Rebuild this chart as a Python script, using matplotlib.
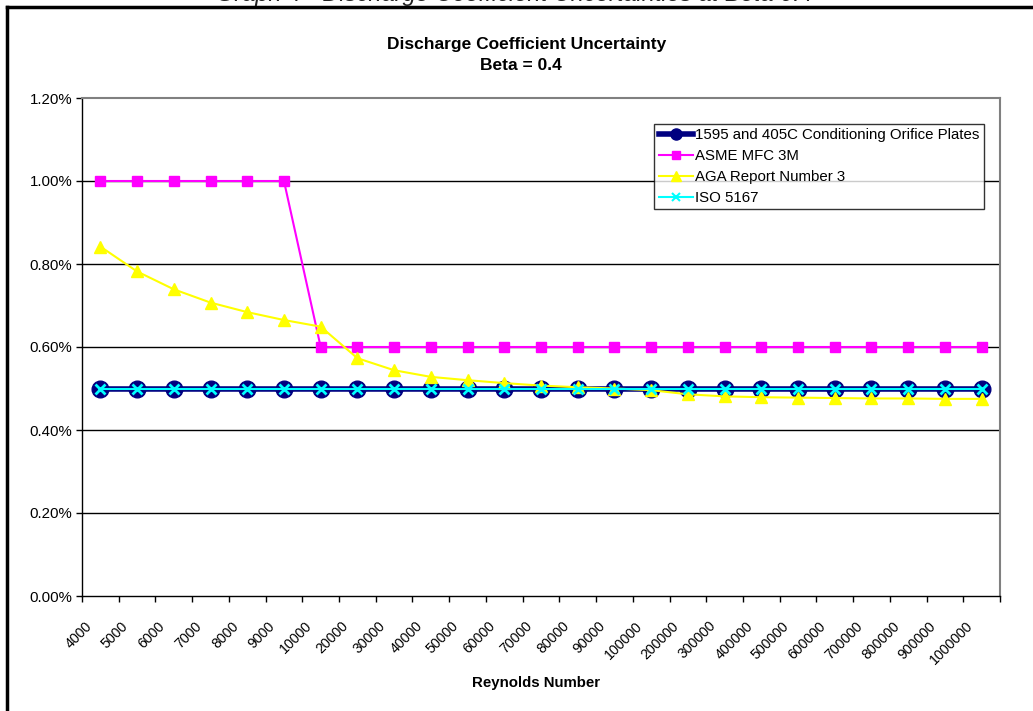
import matplotlib
matplotlib.use("Agg")
import matplotlib.pyplot as plt
from matplotlib.lines import Line2D
from matplotlib.ticker import FuncFormatter, FixedLocator
from matplotlib.transforms import ScaledTranslation

plt.rcParams["font.family"] = ["Liberation Sans", "DejaVu Sans"]

REYNOLDS = ["4000", "5000", "6000", "7000", "8000", "9000",
            "10000", "20000", "30000", "40000", "50000", "60000", "70000", "80000", "90000",
            "100000", "200000", "300000", "400000", "500000", "600000", "700000", "800000",
            "900000", "1000000"]

# uncertainty in percent
CONDITIONING = [0.50] * 25
ASME = [1.00] * 6 + [0.60] * 19
AGA = [0.842, 0.782, 0.739, 0.707, 0.684, 0.665, 0.649, 0.573, 0.544, 0.528,
       0.520, 0.513, 0.507, 0.503, 0.500, 0.496, 0.486, 0.481, 0.479, 0.478,
       0.477, 0.476, 0.476, 0.475, 0.475]
ISO = [0.50] * 25

W, H = 1033, 711
fig = plt.figure(figsize=(W / 100, H / 100), dpi=100)
ax = fig.add_axes([82 / W, (H - 596) / H, 918 / W, (596 - 98) / H])

x = list(range(len(REYNOLDS)))
ax.plot(x, CONDITIONING, color="#000080", lw=4, marker="o", ms=12,
        mfc="#000080", mec="#000080", label="1595 and 405C Conditioning Orifice Plates", zorder=3)
ax.plot(x, ASME, color="#FF00FF", lw=1.5, marker="s", ms=7.5,
        label="ASME MFC 3M", zorder=4)
ax.plot(x, AGA, color="#FFFF00", lw=1.5, marker="^", ms=8.5,
        label="AGA Report Number 3", zorder=5)
ax.plot(x, ISO, color="#00FFFF", lw=1.5, marker="x", ms=7, mew=2,
        label="ISO 5167", zorder=6)

ax.set_xlim(-0.5, len(REYNOLDS) - 0.5)
ax.set_ylim(0, 1.2)
ax.set_yticks([0, 0.2, 0.4, 0.6, 0.8, 1.0, 1.2])
ax.yaxis.set_major_formatter(FuncFormatter(lambda v, p: f"{v:.2f}%"))
ax.tick_params(axis="y", direction="out", length=4, width=1, labelsize=10.8, pad=3)
for yv in [0.2, 0.4, 0.6, 0.8, 1.0]:
    ax.axhline(yv, color="black", lw=1, zorder=1)

# category boundaries get the tick marks, centres get the labels
ax.xaxis.set_major_locator(FixedLocator([i - 0.5 for i in range(len(REYNOLDS) + 1)]))
ax.xaxis.set_major_formatter(FuncFormatter(lambda v, p: ""))
ax.xaxis.set_minor_locator(FixedLocator(x))
ax.set_xticklabels(REYNOLDS, minor=True)
ax.tick_params(axis="x", which="major", direction="out", length=4, width=1)
ax.tick_params(axis="x", which="minor", length=0, pad=20, labelsize=10.2)
shift = ScaledTranslation(-11 / 100, 0, fig.dpi_scale_trans)
for lab in ax.get_xticklabels(minor=True):
    lab.set_rotation(45)
    lab.set_ha("right")
    lab.set_va("center")
    lab.set_rotation_mode("anchor")
    lab.set_transform(lab.get_transform() + shift)

for s in ["left", "bottom"]:
    ax.spines[s].set_color("black")
    ax.spines[s].set_linewidth(1)
for s in ["top", "right"]:
    ax.spines[s].set_color("#808080")
    ax.spines[s].set_linewidth(1.5)

ax.set_xlabel("Reynolds Number", fontsize=10.8, fontweight="bold", labelpad=4)
ax.xaxis.set_label_coords((536 - 82) / 918, -(676 - 596) / 498)

handles = [
    Line2D([], [], color="#000080", lw=4, marker="o", ms=8, mfc="#000080", mec="#000080"),
    Line2D([], [], color="#FF00FF", lw=1.5, marker="s", ms=6),
    Line2D([], [], color="#FFFF00", lw=1.5, marker="^", ms=7),
    Line2D([], [], color="#00FFFF", lw=1.5, marker="x", ms=6, mew=1.5),
]
labels = [l.get_label() for l in ax.get_lines()[:4]]
leg = ax.legend(handles, labels, loc="upper left",
                bbox_to_anchor=((654 - 82) / 918, (596 - 124) / 498),
                fontsize=10.8, frameon=True, fancybox=False, edgecolor="black",
                handlelength=2.3, handletextpad=0.15, borderpad=0.3, labelspacing=0.45,
                borderaxespad=0)
leg.get_frame().set_linewidth(1)

fig.text(527 / W, 1 - 45 / H, "Discharge Coefficient Uncertainty", ha="center", va="center",
         fontsize=12.5, fontweight="bold")
fig.text(521 / W, 1 - 66 / H, "Beta = 0.4", ha="center", va="center",
         fontsize=12.5, fontweight="bold")

# page caption above the chart, cut off by the top edge
fig.text(515 / W, 1 - 0.5 / H, "Graph 4 - Discharge Coefficient Uncertainties at Beta 0.4",
         ha="center", va="baseline", fontsize=17, style="italic", color="#222222")

# chart border (only top and left edges fall inside the picture)
fig.add_artist(Line2D([7 / W, 1], [1 - 7 / H, 1 - 7 / H], color="black", lw=2.5,
                      transform=fig.transFigure))
fig.add_artist(Line2D([7 / W, 7 / W], [0, 1 - 7 / H], color="black", lw=2.5,
                      transform=fig.transFigure))

fig.savefig("out.png", dpi=100)
